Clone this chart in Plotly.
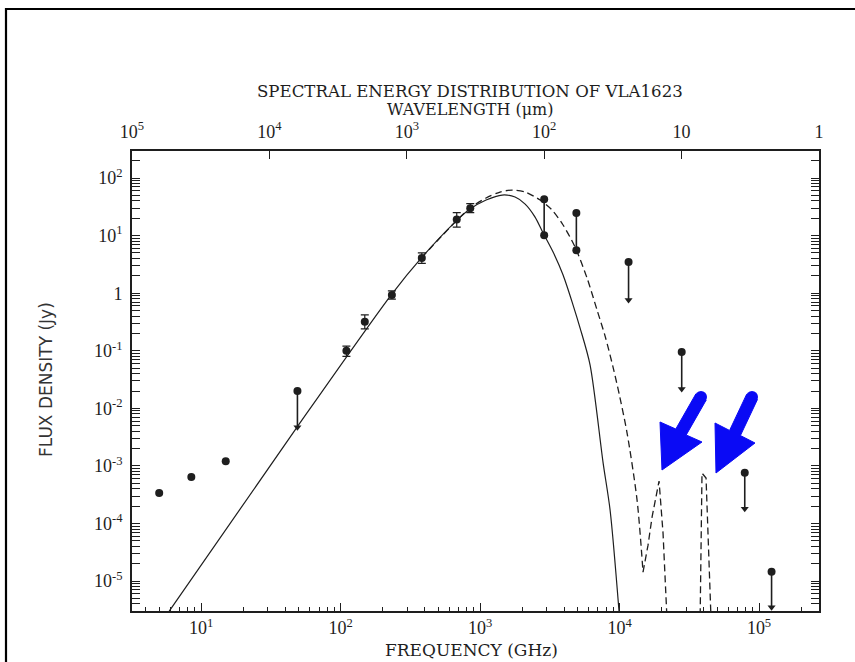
import plotly.graph_objects as go

# ---- photometry of VLA1623 (frequency in GHz, flux density in Jy) ----
# centimetre detections
cm_freq = [5.0, 8.5, 15.0]
cm_flux = [3.4e-4, 6.4e-4, 1.2e-3]

# (sub)millimetre detections with error bars
mm_freq = [110, 149, 233, 382, 680, 850]
mm_flux = [0.10, 0.32, 0.93, 4.1, 19.0, 30.0]
mm_err_hi = [0.02, 0.10, 0.17, 0.9, 6.0, 6.0]
mm_err_lo = [0.02, 0.08, 0.14, 0.8, 5.0, 5.0]

# far-infrared flux ranges (upper and lower values)
fir_freq = [2880, 4900]
fir_hi = [43.0, 24.6]
fir_lo = [10.2, 5.6]

# upper limits (limit value, arrow tip)
lim_freq = [49, 11600, 27900, 79000, 123000]
lim_hi = [0.020, 3.5, 0.095, 7.6e-4, 1.45e-5]
lim_lo = [4.7e-3, 0.76, 0.0216, 1.8e-4, 3.5e-6]

# model SEDs
bb_freq = [5.90, 48.7, 230, 378, 673, 847, 1104, 1439, 1782, 2104, 2478,
           2830, 3337, 3935, 4642, 5212, 6148, 7625, 8555, 9910]
bb_flux = [3.0e-6, 4.73e-3, 0.93, 4.07, 17.9, 28.9, 41.5, 50.7, 46.8, 35.3,
           21.0, 11.1, 5.19, 2.07, 0.622, 0.248, 0.0565, 1.12e-3, 1.7e-4, 3.0e-6]

mod_freq = [378, 673, 847, 1104, 1390, 1694, 2104, 2692, 3282, 3935, 4797,
            5848, 6897, 7875, 8979, 10080, 11320, 13350, 14730]
mod_flux = [4.07, 17.9, 30.1, 45.0, 57.2, 61.9, 57.2, 41.5, 27.8, 15.3, 6.32,
            1.83, 0.509, 0.180, 0.0521, 0.0151, 3.72e-3, 2.55e-4, 1.43e-5]

# emission features of the dashed model
feat_freq = [14730, 16000, 17100, 19190, 20500, 21900, 28500,
             37800, 39000, 41700, 45300]
feat_flux = [1.43e-5, 4.2e-5, 1.29e-4, 5.46e-4, 6.8e-5, 2.1e-6, 1e-8,
             2.1e-6, 7.5e-4, 6.15e-4, 2.1e-6]

# axis ticks
freq_ticks = [10, 100, 1e3, 1e4, 1e5]
freq_labels = ["10<sup>1</sup>", "10<sup>2</sup>", "10<sup>3</sup>",
               "10<sup>4</sup>", "10<sup>5</sup>"]
wave_ticks = [1e5, 1e4, 1e3, 100, 10, 1]
wave_labels = ["10<sup>5</sup>", "10<sup>4</sup>", "10<sup>3</sup>",
               "10<sup>2</sup>", "10", "1"]
flux_ticks = [1e-5, 1e-4, 1e-3, 1e-2, 1e-1, 1, 10, 100]
flux_labels = ["10<sup>-5</sup>", "10<sup>-4</sup>", "10<sup>-3</sup>",
               "10<sup>-2</sup>", "10<sup>-1</sup>", "1",
               "10<sup>1</sup>", "10<sup>2</sup>"]

INK = "#1e1e1e"
SERIF = "Liberation Serif"
WIDE_SERIF = "DejaVu Serif"

# plot-area geometry in pixels (used for paper-referenced decorations)
W, H = 855, 662
L_M, R_M, T_M, B_M = 132, 36, 151, 51
PW, PH = W - L_M - R_M, H - T_M - B_M


def px(x, y):
    return (x - L_M) / PW, (H - B_M - y) / PH


fig = go.Figure()

# model curves
fig.add_trace(go.Scatter(x=bb_freq, y=bb_flux, mode="lines",
                         line=dict(color=INK, width=1.2, shape="spline", smoothing=0.8),
                         hoverinfo="skip", showlegend=False))
fig.add_trace(go.Scatter(x=mod_freq, y=mod_flux, mode="lines",
                         line=dict(color=INK, width=1.3, dash="7px,4px",
                                   shape="spline", smoothing=0.8),
                         hoverinfo="skip", showlegend=False))
fig.add_trace(go.Scatter(x=feat_freq, y=feat_flux, mode="lines",
                         line=dict(color=INK, width=1.3, dash="7px,4px"),
                         hoverinfo="skip", showlegend=False))

# upper limits: bar with dot on top and arrowhead below
for f, hi, lo in zip(lim_freq, lim_hi, lim_lo):
    fig.add_trace(go.Scatter(x=[f, f], y=[hi, lo], mode="lines",
                             line=dict(color=INK, width=1.6),
                             hoverinfo="skip", showlegend=False))
fig.add_trace(go.Scatter(x=lim_freq, y=lim_hi, mode="markers",
                         marker=dict(symbol="circle", size=8, color=INK,
                                     line=dict(width=0)),
                         showlegend=False))
fig.add_trace(go.Scatter(x=lim_freq, y=lim_lo, mode="markers",
                         marker=dict(symbol="triangle-down", size=7, color=INK,
                                     line=dict(width=0)),
                         showlegend=False))

# far-infrared ranges
for f, hi, lo in zip(fir_freq, fir_hi, fir_lo):
    fig.add_trace(go.Scatter(x=[f, f], y=[hi, lo], mode="lines+markers",
                             line=dict(color=INK, width=1.6),
                             marker=dict(symbol="circle", size=8, color=INK,
                                         line=dict(width=0)),
                             showlegend=False))

# detections
fig.add_trace(go.Scatter(x=cm_freq, y=cm_flux, mode="markers",
                         marker=dict(symbol="circle", size=8, color=INK,
                                     line=dict(width=0)),
                         showlegend=False))
fig.add_trace(go.Scatter(x=mm_freq, y=mm_flux, mode="markers",
                         marker=dict(symbol="circle", size=8, color=INK,
                                     line=dict(width=0)),
                         error_y=dict(type="data", symmetric=False,
                                      array=mm_err_hi, arrayminus=mm_err_lo,
                                      color=INK, thickness=1.2, width=4),
                         showlegend=False))

# wavelength axis carrier
fig.add_trace(go.Scatter(x=wave_ticks, y=[None] * len(wave_ticks), xaxis="x2",
                         mode="markers", showlegend=False, hoverinfo="skip"))

minor_f = [m * 10 ** d for d in range(0, 6) for m in range(2, 10)]
minor_s = [m * 10.0 ** d for d in range(-6, 3) for m in range(2, 10)]

axis_common = dict(type="log", showgrid=False, zeroline=False, showline=True,
                   linecolor=INK, linewidth=1.6, ticks="inside", ticklen=8,
                   tickwidth=1.3, tickcolor=INK,
                   tickfont=dict(family=SERIF, size=18, color=INK))

fig.update_layout(
    width=W, height=H,
    margin=dict(l=L_M, r=R_M, t=T_M, b=B_M),
    paper_bgcolor="white", plot_bgcolor="white",
    xaxis=dict(axis_common, range=[0.504, 5.43], tickmode="array",
               tickvals=freq_ticks, ticktext=freq_labels,
               minor=dict(tickvals=minor_f, ticks="inside", ticklen=4,
                          tickwidth=1.1, tickcolor=INK)),
    xaxis2=dict(axis_common, overlaying="x", side="top", anchor="y",
                range=[5, 0], tickmode="array", ticklabelstandoff=4,
                tickvals=wave_ticks, ticktext=wave_labels),
    yaxis=dict(axis_common, range=[-5.52, 2.47], tickmode="array",
               tickvals=flux_ticks, ticktext=flux_labels, mirror="allticks",
               ticklabelstandoff=4,
               minor=dict(tickvals=minor_s, ticks="inside", ticklen=4,
                          tickwidth=1.1, tickcolor=INK)),
)

# titles
cx = px(470, 0)[0]
centre = dict(xref="paper", yref="paper", showarrow=False,
              xanchor="center", yanchor="middle")
fig.add_annotation(x=cx, y=px(0, 92)[1], text="SPECTRAL ENERGY DISTRIBUTION OF VLA1623",
                   font=dict(family=WIDE_SERIF, size=16.6, color=INK), **centre)
fig.add_annotation(x=cx, y=px(0, 109)[1], text="WAVELENGTH (\u03bcm)",
                   font=dict(family=WIDE_SERIF, size=16, color=INK), **centre)
fig.add_annotation(x=px(471, 0)[0], y=px(0, 650)[1], text="FREQUENCY (GHz)",
                   font=dict(family=WIDE_SERIF, size=17, color=INK), **centre)
fig.add_annotation(x=px(46, 0)[0], y=px(0, 380)[1], text="FLUX DENSITY (Jy)",
                   textangle=-90,
                   font=dict(family="DejaVu Sans", size=17, color="#333333"), **centre)

# outer frame
fx0, fy0 = px(6, 9)
fx1, fy1 = px(900, 700)
fig.add_shape(type="rect", xref="paper", yref="paper", x0=fx0, y0=fy1,
              x1=fx1, y1=fy0, line=dict(color="black", width=2.2), layer="above")


# highlight arrows
def arrow_path(tail, base_a, base_b, tip, half):
    mx, my = (base_a[0] + base_b[0]) / 2, (base_a[1] + base_b[1]) / 2
    dx, dy = mx - tail[0], my - tail[1]
    n = (dx * dx + dy * dy) ** 0.5
    ox, oy = -dy / n * half, dx / n * half
    pts = [(tail[0] + ox, tail[1] + oy), (mx + ox, my + oy), base_a, tip,
           base_b, (mx - ox, my - oy), (tail[0] - ox, tail[1] - oy)]
    s = ""
    for i, (x, y) in enumerate(pts):
        u, v = px(x, y)
        s += ("M" if i == 0 else "L") + f"{u:.5f},{v:.5f} "
    return s + "Z"


BLUE = "#0a0af5"
arrows = [((701, 397), (660, 422), (702, 442), (662, 470)),
          ((752, 397), (715, 423), (755, 443), (716, 473))]
for tail, a, b, tip in arrows:
    fig.add_shape(type="path", xref="paper", yref="paper",
                  path=arrow_path(tail, a, b, tip, 6),
                  fillcolor=BLUE, line=dict(color=BLUE, width=1), layer="above")
    r = 6
    cx0, cy0 = px(tail[0] - r, tail[1] + r)
    cx1, cy1 = px(tail[0] + r, tail[1] - r)
    fig.add_shape(type="circle", xref="paper", yref="paper", x0=cx0, y0=cy0,
                  x1=cx1, y1=cy1, fillcolor=BLUE, line=dict(color=BLUE, width=0),
                  layer="above")

fig.write_html("out.html")
